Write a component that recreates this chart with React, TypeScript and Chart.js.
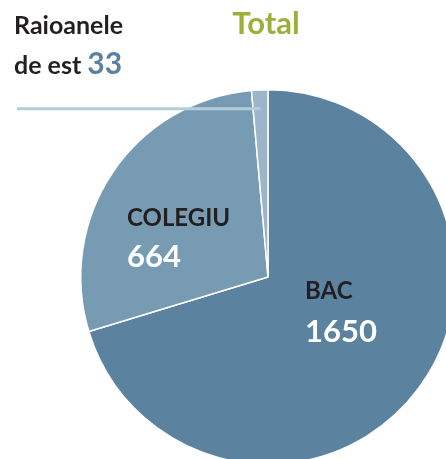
import React, { useEffect, useRef } from "react";
import { Chart, registerables } from "chart.js";

Chart.register(...registerables);

const categories = ["BAC", "COLEGIU", "Raioanele de est"];
const values = [1650, 664, 33];
const colors = ["#5b829f", "#779bb2", "#9cb5c9"];
const title = "Total";

const FONT = "Lato, 'Open Sans', sans-serif";

const labelPlugin = {
  id: "customLabels",
  afterDraw(chart: any) {
    const ctx = chart.ctx as CanvasRenderingContext2D;
    const meta = chart.getDatasetMeta(0);
    const arc0 = meta.data[0] as any;
    const cx = arc0.x;
    const cy = arc0.y;
    const r = arc0.outerRadius;
    ctx.save();
    ctx.textBaseline = "alphabetic";
    ctx.textAlign = "left";

    // leader line to small slice
    const small = meta.data[2] as any;
    const mid = (small.startAngle + small.endAngle) / 2;
    const lx = cx + Math.cos(mid) * r * 0.9;
    const ly = cy + Math.sin(mid) * r * 0.9;
    ctx.strokeStyle = "#b3cddd";
    ctx.lineWidth = 3;
    ctx.beginPath();
    ctx.moveTo(17, ly);
    ctx.lineTo(lx, ly);
    ctx.stroke();

    // title
    ctx.fillStyle = "#9bb03c";
    ctx.font = `bold 31px ${FONT}`;
    ctx.textAlign = "center";
    ctx.fillText(title, 266, 34);
    ctx.textAlign = "left";

    // small slice label
    const words = categories[2].split(" ");
    ctx.fillStyle = "#231f20";
    ctx.font = `bold 25px ${FONT}`;
    ctx.fillText(words[0], 14, 34);
    const line2 = words.slice(1).join(" ") + " ";
    ctx.fillText(line2, 14, 74);
    const w2 = ctx.measureText(line2).width;
    ctx.fillStyle = colors[0];
    ctx.font = `bold 30px ${FONT}`;
    ctx.fillText(String(values[2]), 14 + w2, 74);

    // COLEGIU
    ctx.fillStyle = "#231f20";
    ctx.font = `bold 24px ${FONT}`;
    ctx.fillText(categories[1], cx - 141, cy - 51);
    ctx.fillStyle = "#ffffff";
    ctx.font = `bold 31px ${FONT}`;
    ctx.fillText(String(values[1]), cx - 141, cy - 10);

    // BAC
    ctx.fillStyle = "#231f20";
    ctx.font = `bold 24px ${FONT}`;
    ctx.fillText(categories[0], cx + 37, cy + 22);
    ctx.fillStyle = "#ffffff";
    ctx.font = `bold 31px ${FONT}`;
    ctx.fillText(String(values[0]), cx + 37, cy + 65);

    ctx.restore();
  },
};

export default function App() {
  const ref = useRef<HTMLCanvasElement>(null);
  useEffect(() => {
    document.documentElement.style.overflow = "hidden";
    document.body.style.overflow = "hidden";
    const chart = new Chart(ref.current!, {
      type: "pie",
      data: {
        labels: categories,
        datasets: [
          {
            data: values,
            backgroundColor: colors,
            borderColor: "#ffffff",
            borderWidth: 1.5,
          },
        ],
      },
      options: {
        animation: false,
        responsive: false,
        layout: { padding: { left: 80, top: 89, right: 10, bottom: 1 } },
        plugins: {
          legend: { display: false },
          tooltip: { enabled: false },
          title: { display: false },
        },
      },
      plugins: [labelPlugin],
    });
    return () => chart.destroy();
  }, []);
  return (
    <div style={{ position: "fixed", left: 0, top: 0, width: 466, height: 466 }}>
      <canvas ref={ref} width={466} height={466} style={{ width: 466, height: 466 }} />
    </div>
  );
}
